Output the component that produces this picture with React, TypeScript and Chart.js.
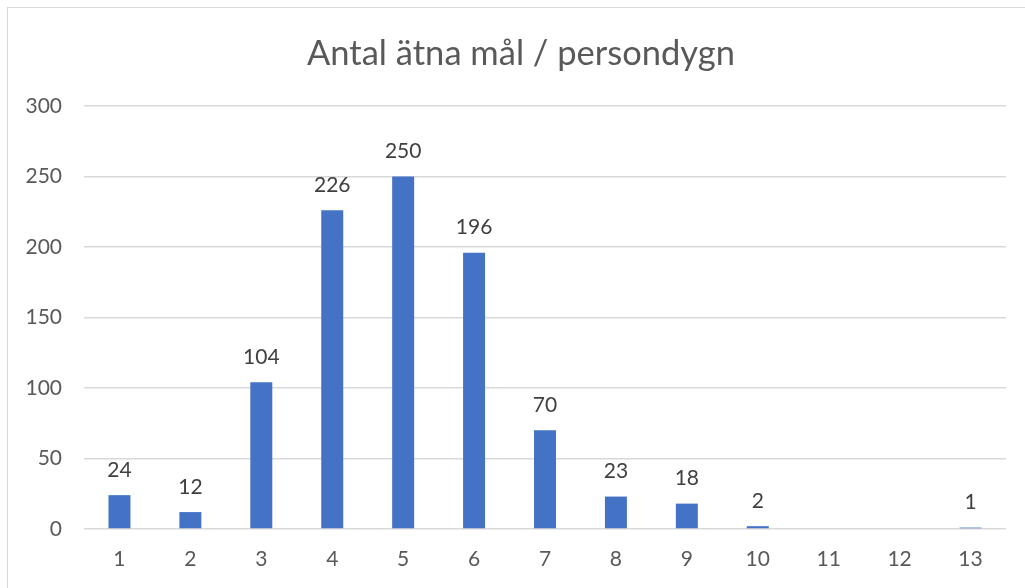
import React, { useEffect, useRef } from "react";
import { Chart, registerables } from "chart.js";

Chart.register(...registerables);

const categories = ["1", "2", "3", "4", "5", "6", "7", "8", "9", "10", "11", "12", "13"];
const counts = [24, 12, 104, 226, 250, 196, 70, 23, 18, 2, 0, 0, 1];
const titleText = "Antal ätna mål / persondygn";
const yMin = 0;
const yMax = 300;
const yStep = 50;

const FONT = "Lato, 'Open Sans', 'Noto Sans', sans-serif";

const valueLabels = {
  id: "valueLabels",
  afterDatasetsDraw(chart: any) {
    const ctx = chart.ctx;
    const meta = chart.getDatasetMeta(0);
    const data = chart.data.datasets[0].data as number[];
    ctx.save();
    ctx.font = `21px ${FONT}`;
    ctx.fillStyle = "#404040";
    ctx.textAlign = "center";
    ctx.textBaseline = "middle";
    meta.data.forEach((bar: any, i: number) => {
      const v = data[i];
      if (!v) return;
      ctx.fillText(String(v), bar.x, bar.y - 25);
    });
    ctx.restore();
  },
};

// Title centred over the whole chart frame (which extends past the right edge of the view)
const frameTitle = {
  id: "frameTitle",
  afterDraw(chart: any) {
    const ctx = chart.ctx;
    ctx.save();
    ctx.font = `34.5px ${FONT}`;
    ctx.fillStyle = "#595959";
    ctx.textAlign = "center";
    ctx.textBaseline = "middle";
    ctx.fillText(titleText, 521, 53.7);
    ctx.restore();
  },
};

export default function App() {
  const ref = useRef<HTMLCanvasElement | null>(null);
  useEffect(() => {
    if (!ref.current) return;
    const chart = new Chart(ref.current, {
      type: "bar",
      data: {
        labels: categories,
        datasets: [
          {
            data: counts,
            backgroundColor: "#4472C4",
            barPercentage: 0.31,
            categoryPercentage: 1,
          },
        ],
      },
      options: {
        animation: false,
        responsive: false,
        maintainAspectRatio: false,
        layout: { padding: { top: 106, right: 19, bottom: 0, left: 0 } },
        plugins: {
          legend: { display: false },
          tooltip: { enabled: false },
          title: { display: false },
        },
        scales: {
          x: {
            grid: { display: false, drawTicks: false },
            border: { display: false },
            ticks: {
              color: "#595959",
              font: { family: FONT, size: 21, lineHeight: 1.2 },
              padding: 18,
              maxRotation: 0,
            },
            afterFit(scale: any) {
              scale.height = 59;
            },
          },
          y: {
            min: yMin,
            max: yMax,
            grid: { color: "#d9d9d9", lineWidth: 1.5, drawTicks: false },
            border: { display: false },
            ticks: {
              stepSize: yStep,
              color: "#595959",
              font: { family: FONT, size: 21, lineHeight: 1.2 },
              padding: 22,
            },
            afterFit(scale: any) {
              scale.width = 84;
            },
          },
        },
      },
      plugins: [valueLabels, frameTitle],
    });
    return () => chart.destroy();
  }, []);
  return (
    <div style={{ position: "absolute", left: 0, top: 0, width: 1025, height: 588, overflow: "hidden", background: "#fff" }}>
      <div
        style={{
          position: "absolute",
          left: 7,
          top: 7,
          width: 1100,
          height: 700,
          borderLeft: "1.5px solid #d9d9d9",
          borderTop: "1.5px solid #d9d9d9",
        }}
      />
      <canvas ref={ref} width={1025} height={588} style={{ position: "absolute", left: 0, top: 0 }} />
    </div>
  );
}
